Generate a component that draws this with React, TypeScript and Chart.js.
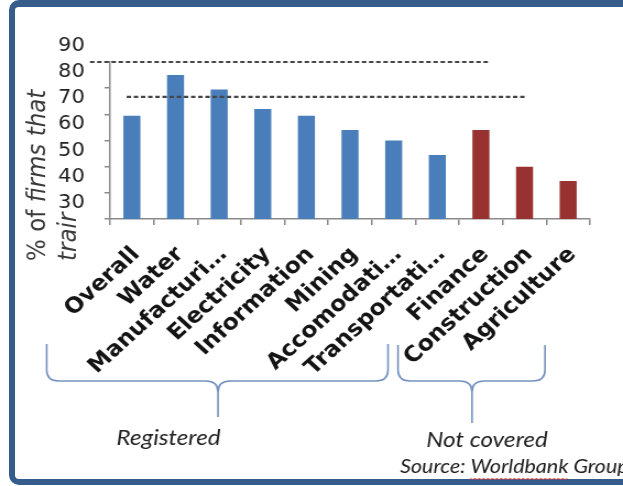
import React, { useEffect, useRef } from "react";
import { Chart, registerables } from "chart.js";

Chart.register(...registerables);

// ---------- data ----------
const categories = [
  "Overall",
  "Water",
  "Manufacturi…",
  "Electricity",
  "Information",
  "Mining",
  "Accomodati…",
  "Transportati…",
  "Finance",
  "Construction",
  "Agriculture",
];
const values = [69.5, 85, 79.5, 72, 69.5, 64, 60, 54.5, 64, 50, 44.5];
const groups = [
  "Registered",
  "Registered",
  "Registered",
  "Registered",
  "Registered",
  "Registered",
  "Registered",
  "Registered",
  "Not covered",
  "Not covered",
  "Not covered",
];
const yTickValues = [30, 40, 50, 60, 70, 80, 90];
// dashed reference lines: value, and extent in category-index units
const refLineValues = [90, 76.7];
const refLineFrom = [-0.96, -0.12];
const refLineTo = [8.17, 9.02];
const axisTitleLines = ["% of firms that", "trair"];
const groupLabels = ["Registered", "Not covered"];
const sourceText = "Source: Worldbank Group";

// ---------- layout / style ----------
const W = 623;
const H = 486;
const SX = 1.1007; // horizontal stretch of the original picture
const LW = Math.round(W / SX); // logical canvas width
const AXIS = "#8a8a8a";
const groupColors: Record<string, string> = {
  Registered: "#4a7ebb",
  "Not covered": "#973230",
};
const X = (refX: number) => refX / SX;

// braces (reference pixel coords)
const braces = [
  { x1: 46.7, x2: 388, xm: 218, top: 344, mid: 381, tip: 417, labelX: 168.5, labelY: 438 },
  { x1: 398, x2: 545, xm: 472, top: 345, mid: 381, tip: 423, labelX: 487, labelY: 440 },
];

const annotate = {
  id: "annotate",
  afterDatasetsDraw(chart: any) {
    const { ctx, scales } = chart;
    const xs = scales.x;
    const ys = scales.y;
    ctx.save();
    ctx.strokeStyle = "#444";
    ctx.lineWidth = 2.2;
    ctx.setLineDash([4, 2.5]);
    refLineValues.forEach((v, i) => {
      const y = ys.getPixelForValue(v);
      ctx.beginPath();
      ctx.moveTo(xs.getPixelForValue(refLineFrom[i]), y);
      ctx.lineTo(xs.getPixelForValue(refLineTo[i]), y);
      ctx.stroke();
    });
    ctx.restore();
  },
  afterDraw(chart: any) {
    const { ctx } = chart;
    ctx.save();
    // y axis title (rotated, two lines)
    ctx.fillStyle = "#3a3a3a";
    ctx.textAlign = "left";
    ctx.textBaseline = "alphabetic";
    const startY = 261;
    ctx.save();
    ctx.translate(41, startY);
    ctx.rotate(-Math.PI / 2);
    const l1 = axisTitleLines[0];
    const upright = l1.slice(0, 5);
    const rest = l1.slice(5);
    ctx.font = "23px 'DejaVu Sans'";
    ctx.fillText(upright, 0, 0);
    const w0 = ctx.measureText(upright).width;
    ctx.font = "italic 23px 'DejaVu Sans'";
    ctx.fillText(rest, w0, 0);
    ctx.restore();
    ctx.save();
    ctx.translate(69, startY);
    ctx.rotate(-Math.PI / 2);
    ctx.font = "italic 23px 'DejaVu Sans'";
    ctx.fillText(axisTitleLines[1], 0, 0);
    ctx.restore();

    // braces
    ctx.strokeStyle = "#7492c0";
    ctx.lineWidth = 1.6;
    const r = 11;
    braces.forEach((b) => {
      const x1 = X(b.x1);
      const x2 = X(b.x2);
      const xm = X(b.xm);
      ctx.beginPath();
      ctx.moveTo(x1, b.top);
      ctx.lineTo(x1, b.mid - r);
      ctx.quadraticCurveTo(x1, b.mid, x1 + r, b.mid);
      ctx.lineTo(xm - r, b.mid);
      ctx.quadraticCurveTo(xm, b.mid, xm, b.mid + r);
      ctx.lineTo(xm, b.tip);
      ctx.moveTo(x2, b.top);
      ctx.lineTo(x2, b.mid - r);
      ctx.quadraticCurveTo(x2, b.mid, x2 - r, b.mid);
      ctx.lineTo(xm + r, b.mid);
      ctx.quadraticCurveTo(xm, b.mid, xm, b.mid + r);
      ctx.stroke();
    });

    // group labels
    ctx.fillStyle = "#222";
    ctx.font = "italic 22px Lato";
    ctx.textAlign = "center";
    ctx.textBaseline = "middle";
    braces.forEach((b, i) => {
      ctx.fillText(groupLabels[i], X(b.labelX), b.labelY);
    });

    // source
    ctx.font = "italic 19.5px Lato";
    ctx.textAlign = "left";
    ctx.fillStyle = "#1a1a1a";
    const sx = X(400);
    const sy = 467;
    ctx.fillText(sourceText, sx, sy);
    // red spell-check squiggle under "Worldbank"
    const pre = sourceText.indexOf("Worldbank");
    const a = sx + ctx.measureText(sourceText.slice(0, pre)).width;
    const bw = ctx.measureText("Worldbank").width;
    ctx.strokeStyle = "#e03a3a";
    ctx.lineWidth = 1;
    ctx.beginPath();
    let up = true;
    for (let x = a; x <= a + bw; x += 2) {
      const yy = sy + 12 + (up ? -1 : 1);
      if (x === a) ctx.moveTo(x, yy);
      else ctx.lineTo(x, yy);
      up = !up;
    }
    ctx.stroke();
    ctx.restore();
  },
};

export default function App() {
  const ref = useRef<HTMLCanvasElement>(null);

  useEffect(() => {
    if (!ref.current) return;
    const chart = new Chart(ref.current, {
      type: "bar",
      data: {
        labels: categories,
        datasets: [
          {
            data: values,
            backgroundColor: groups.map((g) => groupColors[g]),
            borderWidth: 0,
            barPercentage: 0.39,
            categoryPercentage: 1,
          },
        ],
      },
      options: {
        responsive: false,
        animation: false,
        devicePixelRatio: 1,
        layout: { padding: { top: 62, left: 0, right: 30, bottom: 0 } },
        plugins: {
          legend: { display: false },
          tooltip: { enabled: false },
          title: { display: false },
        },
        scales: {
          x: {
            grid: {
              display: true,
              drawOnChartArea: false,
              drawTicks: true,
              tickLength: 6,
              color: AXIS,
              lineWidth: 1.5,
              offset: true,
            },
            border: { display: true, color: AXIS, width: 1.5 },
            ticks: {
              autoSkip: false,
              maxRotation: 45,
              minRotation: 45,
              color: "#141414",
              padding: 17,
              labelOffset: 4,
              font: { family: "'DejaVu Sans'", weight: "bold", size: 21.5 },
            },
            afterFit: (s: any) => {
              s.height = H - 219;
            },
          },
          y: {
            min: 30,
            max: 90,
            afterBuildTicks: (s: any) => {
              s.ticks = yTickValues.map((v) => ({ value: v }));
            },
            grid: {
              display: true,
              drawOnChartArea: false,
              drawTicks: true,
              tickLength: 5,
              color: AXIS,
              lineWidth: 1.5,
            },
            border: { display: true, color: AXIS, width: 1.5 },
            ticks: {
              color: "#222",
              padding: 18,
              labelOffset: -16,
              font: { family: "'DejaVu Sans'", size: 19 },
            },
            afterFit: (s: any) => {
              s.width = 100;
            },
          },
        },
      },
      plugins: [annotate],
    });
    return () => chart.destroy();
  }, []);

  return (
    <div
      style={{
        position: "fixed",
        left: 0,
        top: 0,
        width: W,
        height: H,
        overflow: "hidden",
        background: "#fff",
      }}
    >
      <div
        style={{
          position: "absolute",
          left: 9,
          top: 0,
          width: 700,
          height: 485,
          boxSizing: "border-box",
          border: "6px solid #365c8c",
          borderTopWidth: 7,
          borderRadius: 10,
          background: "#fff",
        }}
      />
      <canvas
        ref={ref}
        width={LW}
        height={H}
        style={{
          position: "absolute",
          left: 0,
          top: 0,
          transform: `scaleX(${SX})`,
          transformOrigin: "0 0",
        }}
      />
    </div>
  );
}
